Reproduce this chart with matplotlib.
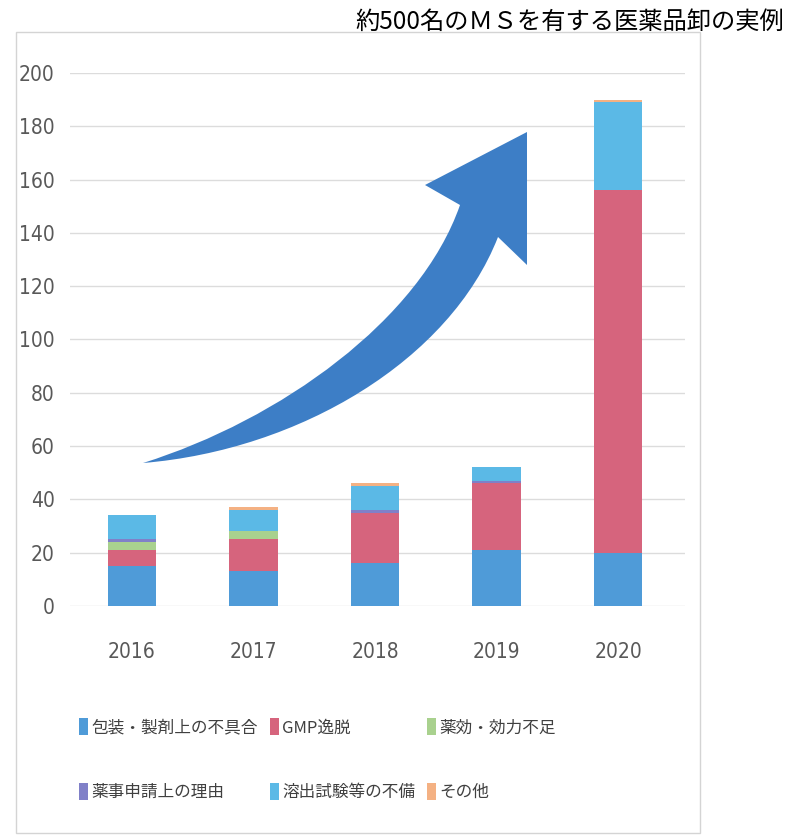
import matplotlib
matplotlib.use("Agg")
import matplotlib.pyplot as plt
from matplotlib.path import Path
from matplotlib.patches import PathPatch, Rectangle
import numpy as np

plt.rcParams['font.family'] = ['Noto Sans CJK JP', 'DejaVu Sans']

# 年ごとの回収件数（理由別）
years = ['2016', '2017', '2018', '2019', '2020']
housou = [15, 13, 16, 21, 20]      # 包装・製剤上の不具合
gmp = [6, 12, 19, 25, 136]         # GMP逸脱
yakkou = [3, 3, 0, 0, 0]           # 薬効・効力不足
yakuji = [1, 0, 1, 1, 0]           # 薬事申請上の理由
youshutsu = [9, 8, 9, 5, 33]       # 溶出試験等の不備
sonota = [0, 1, 1, 0, 1]           # その他

labels = ['包装・製剤上の不具合', 'GMP逸脱', '薬効・効力不足',
          '薬事申請上の理由', '溶出試験等の不備', 'その他']
colors = ['#4f9bd8', '#d6647d', '#a9d18e', '#8080c8', '#5bb9e6', '#f4b183']
yticks = list(range(0, 201, 20))

W, H = 787, 836
fig = plt.figure(figsize=(W / 100, H / 100), dpi=100)

# 外枠
fig.patches.append(Rectangle((16 / W, 1 - 833 / H), 684 / W, 801 / H,
                             transform=fig.transFigure, fill=False,
                             edgecolor='#d4d4d4', linewidth=1))

ax = fig.add_axes([70 / W, 1 - 606 / H, 615 / W, 533 / H])

series = [housou, gmp, yakkou, yakuji, youshutsu, sonota]
x = np.arange(len(years))
bottom = np.zeros(len(years))
handles = []
for vals, lab, col in zip(series, labels, colors):
    b = ax.bar(x, vals, width=0.4, bottom=bottom, color=col, label=lab, zorder=3)
    handles.append(b)
    bottom += np.array(vals)

ax.set_ylim(0, 200)
ax.set_xlim(-0.51, 4.55)
ax.set_yticks(yticks)
ax.set_xticks(x)
ax.set_xticklabels(years)
ax.yaxis.grid(True, color='#dcdcdc', linewidth=1, zorder=0)
for s in ax.spines.values():
    s.set_visible(False)
ax.tick_params(length=0, colors='#595959')
for t in ax.get_yticklabels():
    t.set_family('DejaVu Sans')
    t.set_stretch('condensed')
    t.set_fontsize(15)
for t in ax.get_xticklabels():
    t.set_family('DejaVu Sans')
    t.set_stretch('condensed')
    t.set_fontsize(15)
ax.tick_params(axis='y', pad=11)
ax.tick_params(axis='x', pad=26)

# 凡例（行ごとに並べる）
order = [0, 3, 1, 4, 2, 5]
leg = ax.legend([handles[i] for i in order], [labels[i] for i in order],
                ncol=3, loc='upper left', bbox_to_anchor=(0.004, -0.198),
                frameon=False, fontsize=12, handlelength=0.55, handleheight=1.2,
                handletextpad=0.2, columnspacing=0.7, labelspacing=2.8,
                borderaxespad=0)
for t in leg.get_texts():
    t.set_color('#404040')

# 増加を示す矢印
pts = [(143, 463),
       (280, 420), (420, 320), (460, 205),
       (425, 185), (527, 132), (527, 265),
       (498, 237),
       (450, 360), (300, 450), (143, 463)]
codes = [Path.MOVETO,
         Path.CURVE4, Path.CURVE4, Path.CURVE4,
         Path.LINETO, Path.LINETO, Path.LINETO,
         Path.LINETO,
         Path.CURVE4, Path.CURVE4, Path.CURVE4]
verts = [(px / W, 1 - py / H) for px, py in pts]
arrow = PathPatch(Path(verts, codes), transform=fig.transFigure,
                  facecolor='#3d7ec6', edgecolor='none', zorder=5)
fig.patches.append(arrow)

fig.text(355 / W, 1 - 22 / H, '約500名のＭＳを有する医薬品卸の実例',
         fontsize=17.5, color='black', ha='left', va='center')

fig.savefig('out.png', dpi=100, facecolor='white')
